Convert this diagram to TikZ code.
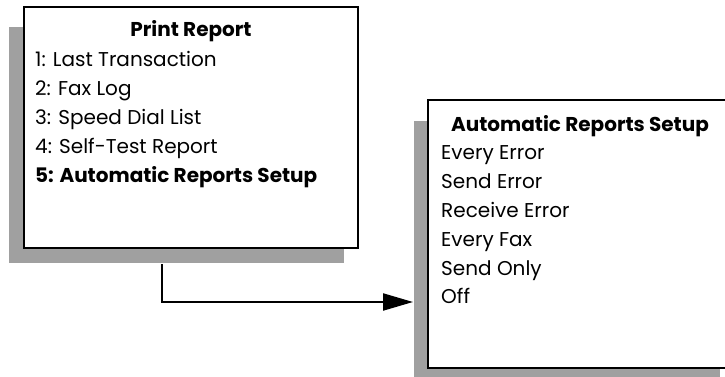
\documentclass[tikz,border=0pt]{standalone}
\usepackage{fontspec}
\setmainfont{Poppins}
\usetikzlibrary{calc,arrows.meta}
\definecolor{shadowgray}{HTML}{A0A0A0}

\begin{document}
\begin{tikzpicture}[x=1pt,y=1pt,
    menubox/.style={draw,line width=2.3pt,fill=white,inner sep=0pt},
    menutitle/.style={anchor=base,font=\fontsize{20}{29}\selectfont\bfseries,inner sep=0pt},
    menuitem/.style={anchor=base west,font=\fontsize{20}{29}\selectfont,inner sep=0pt},
    link/.style={line width=2.2pt,-{Triangle[length=30pt,width=17pt]}}]
    \useasboundingbox(0,0)rectangle(725,377);
    % shadows
    \fill[shadowgray](9,114)rectangle(344,350);
    \fill[shadowgray](414,-5)rectangle(720,256);
    % print report menu
    \node[menubox,minimum width=334,minimum height=241](prbox)at(191,249.5){};
    \node[menutitle](prtitle)at(191,340){Print Report};
    \foreach \i/\t in {1/1: Last Transaction,2/2: Fax Log,3/3: Speed Dial List,4/4: Self-Test Report}
      \node[menuitem](pr\i)at(35,{310.3-29*(\i-1)}){\t};
    \node[menuitem,font=\fontsize{20}{29}\selectfont\bfseries](pr5)at(35,194){5: Automatic Reports Setup};
    % automatic reports setup menu
    \node[menubox,minimum width=306,minimum height=268](asbox)at(581,143){};
    \node[menutitle](astitle)at(580,245){Automatic Reports Setup};
    \foreach \i/\t in {1/Every Error,2/Send Error,3/Receive Error,4/Every Fax,5/Send Only,6/Off}
      \node[menuitem](as\i)at(441,{217-28.8*(\i-1)}){\t};
    % connector
    \coordinate(start)at($(prbox.south)+(-29,-15)$);
    \coordinate(tip)at(413,75);
    \draw[link](start)|-(tip);
\end{tikzpicture}
\end{document}
